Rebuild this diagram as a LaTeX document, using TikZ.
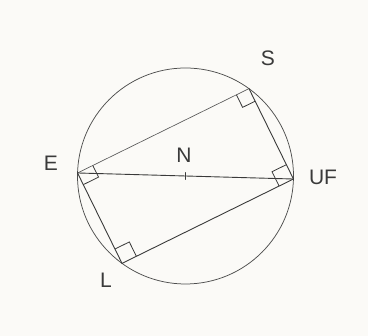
\documentclass[tikz,border=0pt]{standalone}
\usepackage{fontspec}
\setmainfont{Liberation Sans}
\usetikzlibrary{calc}
\definecolor{paper}{HTML}{FBFAF7}
\definecolor{ink}{HTML}{3A3A3A}
\tikzset{
  pen/.style={draw=ink, line width=0.9pt, line cap=round, line join=round},
  thinpen/.style={draw=ink!85, line width=0.65pt, line cap=round},
  ring/.style={draw=ink!90, line width=0.75pt},
  lab/.style={text=ink, font=\fontsize{21}{21}\selectfont, inner sep=0pt},
  rmark/.style={draw=ink, line width=0.8pt, line join=miter}
}
\begin{document}
\begin{tikzpicture}[x=1pt, y=-1pt]
  \fill[paper] (0,0) rectangle (368,336);
  \useasboundingbox (0,0) rectangle (368,336);
  \coordinate (C) at (185.5,176);
  \coordinate (E) at ($(C)+(181.6:108)$);
  \coordinate (UF) at ($(C)+(1.6:108)$);
  \coordinate (S) at ($(C)+(-54:108)$);
  \coordinate (L) at ($(C)+(126:108)$);
  \coordinate (N) at (C);
  % circle
  \draw[ring] (C) circle (108);
  % rectangle sides and diameter
  \draw[thinpen] (E) -- (S);
  \draw[pen] (S) -- (UF);
  \draw[pen] (UF) -- (L);
  \draw[pen] (L) -- (E);
  \draw[pen] (E) -- (UF);
  % midpoint tick
  \draw[pen] ($(N)+(0,-3.5)$) -- ($(N)+(0,3.5)$);
  % right angle marks
  \coordinate (s1) at ($(S)!14pt!(E)$);
  \coordinate (s2) at ($(S)!14pt!(UF)$);
  \draw[rmark] (s1) -- ($(s1)+(s2)-(S)$) -- (s2);
  \coordinate (l1) at ($(L)!16pt!(E)$);
  \coordinate (l2) at ($(L)!16pt!(UF)$);
  \draw[rmark] (l1) -- ($(l1)+(l2)-(L)$) -- (l2);
  \coordinate (e1) at ($(E)!17pt!(S)$);
  \coordinate (e2) at ($(E)!13pt!(L)$);
  \draw[rmark] (e1) -- ($(e1)+(e2)-(E)$) -- (e2);
  \coordinate (u1) at ($(UF)!16pt!(S)$);
  \coordinate (u2) at ($(UF)!16pt!(L)$);
  \draw[rmark] (u1) -- ($(u1)+(u2)-(UF)$) -- (u2);
  % labels
  \node[lab] (lE) at (51,163) {E};
  \node[lab] (lN) at (184,155) {N};
  \node[lab] (lS) at (268,58) {S};
  \node[lab] (lUF) at (323,177) {UF};
  \node[lab] (lL) at (106,280) {L};
\end{tikzpicture}
\end{document}
